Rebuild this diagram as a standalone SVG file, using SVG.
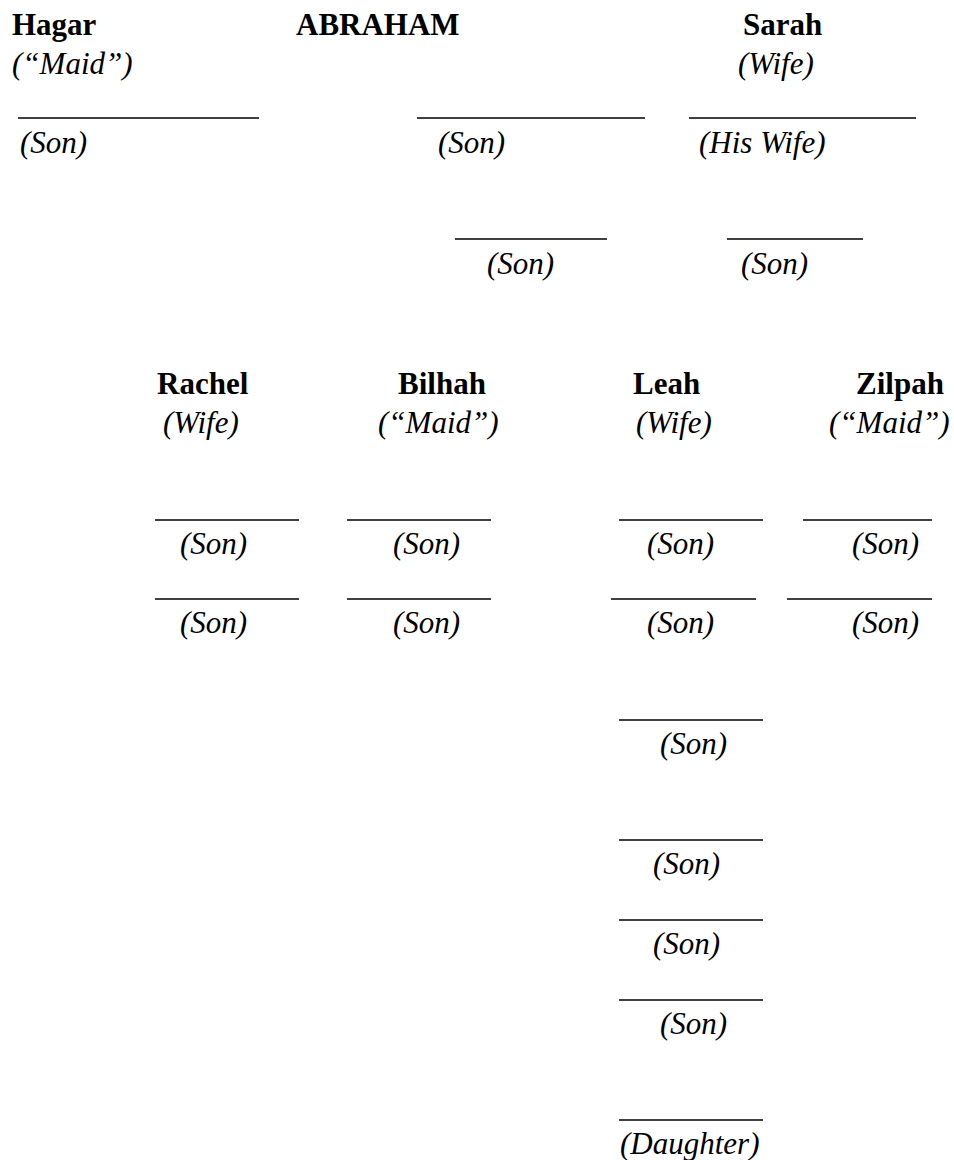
<svg xmlns="http://www.w3.org/2000/svg" width="954" height="1160" viewBox="0 0 954 1160">
<style>
.n{font-family:"Liberation Serif","Times New Roman",serif;font-weight:bold;font-size:31px;fill:#000}
.r{font-family:"Liberation Serif","Times New Roman",serif;font-style:italic;font-size:31px;fill:#000}
.b{stroke:#000;stroke-width:1.6;fill:none}
</style>
<rect width="954" height="1160" fill="#fff"/>
<g id="hagar"><text class="n" x="12" y="35">Hagar</text><text class="r" x="12" y="74">(“Maid”)</text></g>
<g id="abraham"><text class="n" x="296" y="35">ABRAHAM</text></g>
<g id="sarah"><text class="n" x="743" y="35">Sarah</text><text class="r" x="738" y="74">(Wife)</text></g>
<g id="son-hagar"><line class="b" x1="18" y1="118" x2="259" y2="118"/><text class="r" x="20" y="153">(Son)</text></g>
<g id="son-sarah"><line class="b" x1="417" y1="118" x2="645" y2="118"/><text class="r" x="438" y="153">(Son)</text></g>
<g id="his-wife"><line class="b" x1="689" y1="118" x2="916" y2="118"/><text class="r" x="699" y="153">(His Wife)</text></g>
<g id="grandson-1"><line class="b" x1="455" y1="239" x2="607" y2="239"/><text class="r" x="487" y="274">(Son)</text></g>
<g id="grandson-2"><line class="b" x1="727" y1="239" x2="863" y2="239"/><text class="r" x="741" y="274">(Son)</text></g>
<g id="rachel"><text class="n" x="157" y="394">Rachel</text><text class="r" x="163" y="433">(Wife)</text></g>
<g id="bilhah"><text class="n" x="398" y="394">Bilhah</text><text class="r" x="378" y="433">(“Maid”)</text></g>
<g id="leah"><text class="n" x="633" y="394">Leah</text><text class="r" x="636" y="433">(Wife)</text></g>
<g id="zilpah"><text class="n" x="856" y="394">Zilpah</text><text class="r" x="829" y="433">(“Maid”)</text></g>
<g id="rachel-son-1"><line class="b" x1="155" y1="520" x2="299" y2="520"/><text class="r" x="180" y="554">(Son)</text></g>
<g id="rachel-son-2"><line class="b" x1="155" y1="599" x2="299" y2="599"/><text class="r" x="180" y="633">(Son)</text></g>
<g id="bilhah-son-1"><line class="b" x1="347" y1="520" x2="491" y2="520"/><text class="r" x="393" y="554">(Son)</text></g>
<g id="bilhah-son-2"><line class="b" x1="347" y1="599" x2="491" y2="599"/><text class="r" x="393" y="633">(Son)</text></g>
<g id="leah-son-1"><line class="b" x1="619" y1="520" x2="763" y2="520"/><text class="r" x="647" y="554">(Son)</text></g>
<g id="leah-son-2"><line class="b" x1="611" y1="599" x2="756" y2="599"/><text class="r" x="647" y="633">(Son)</text></g>
<g id="zilpah-son-1"><line class="b" x1="803" y1="520" x2="932" y2="520"/><text class="r" x="852" y="554">(Son)</text></g>
<g id="zilpah-son-2"><line class="b" x1="787" y1="599" x2="932" y2="599"/><text class="r" x="852" y="633">(Son)</text></g>
<g id="leah-son-3"><line class="b" x1="619" y1="720" x2="763" y2="720"/><text class="r" x="660" y="754">(Son)</text></g>
<g id="leah-son-4"><line class="b" x1="619" y1="840" x2="763" y2="840"/><text class="r" x="653" y="874">(Son)</text></g>
<g id="leah-son-5"><line class="b" x1="619" y1="920" x2="763" y2="920"/><text class="r" x="653" y="954">(Son)</text></g>
<g id="leah-son-6"><line class="b" x1="619" y1="1000" x2="763" y2="1000"/><text class="r" x="660" y="1034">(Son)</text></g>
<g id="leah-daughter"><line class="b" x1="619" y1="1120" x2="763" y2="1120"/><text class="r" x="620" y="1154">(Daughter)</text></g>
<g id="connectors"></g>
</svg>
